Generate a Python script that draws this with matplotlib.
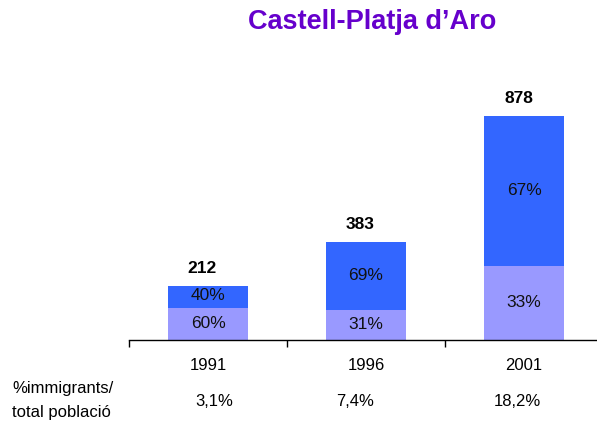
import numpy as np
import matplotlib.pyplot as plt

plt.rcParams['font.family'] = ['Liberation Sans', 'DejaVu Sans']

years = ['1991', '1996', '2001']
totals = [212, 383, 878]
pct_bottom = [60, 31, 33]
pct_top = [40, 69, 67]
share_labels = ['3,1%', '7,4%', '18,2%']

col_bottom = '#9999FF'
col_top = '#3366FF'

fig = plt.figure(figsize=(5.97, 4.25), dpi=100)
ax = fig.add_axes([129 / 597, 85 / 425, 468 / 597, 280 / 425])

x = np.arange(len(years))
totals = np.array(totals)
bottom_vals = totals * np.array(pct_bottom) / 100
top_vals = totals - bottom_vals

ax.bar(x, bottom_vals, width=0.506, color=col_bottom, linewidth=0)
ax.bar(x, top_vals, width=0.506, bottom=bottom_vals, color=col_top, linewidth=0)

for i in range(len(years)):
    ax.text(x[i], bottom_vals[i] / 2 + 3, f'{pct_bottom[i]}%', ha='center', va='center',
            fontsize=12.5, color='#111111')
    ax.text(x[i], bottom_vals[i] + top_vals[i] / 2 + 3, f'{pct_top[i]}%', ha='center',
            va='center', fontsize=12.5, color='#111111')
    ax.annotate(str(totals[i]), (x[i], totals[i]), xytext=(-4, 12.5), textcoords='offset points',
                ha='center', va='center', fontsize=12.5, fontweight='bold')

ax.set_xlim(-0.5, 2.462)
ax.set_ylim(0, 1097.6)

for side in ['top', 'right', 'left']:
    ax.spines[side].set_visible(False)
ax.spines['bottom'].set_linewidth(1.0)
ax.set_yticks([])
ax.set_xticks(x)
ax.set_xticklabels(years, fontsize=12)
ax.tick_params(axis='x', which='major', length=0, pad=13)
ax.set_xticks([-0.5, 0.5, 1.5], minor=True)
ax.tick_params(axis='x', which='minor', length=5, width=1, direction='out')

# percentage row sits a little off the bar centres in the original
share_x = [214, 355, 517]
for xs, s in zip(share_x, share_labels):
    fig.text(xs / 597, 1 - 401 / 425, s, ha='center', va='center', fontsize=12)

fig.text(12 / 597, 1 - 388 / 425, '%immigrants/', ha='left', va='center', fontsize=12)
fig.text(12 / 597, 1 - 412 / 425, 'total població', ha='left', va='center', fontsize=12)

fig.text(372 / 597, 1 - 22 / 425, 'Castell-Platja d\u2019Aro', ha='center', va='center',
         fontsize=19.5, fontweight='bold', color='#6600CC')

fig.savefig('out.png', dpi=100)
